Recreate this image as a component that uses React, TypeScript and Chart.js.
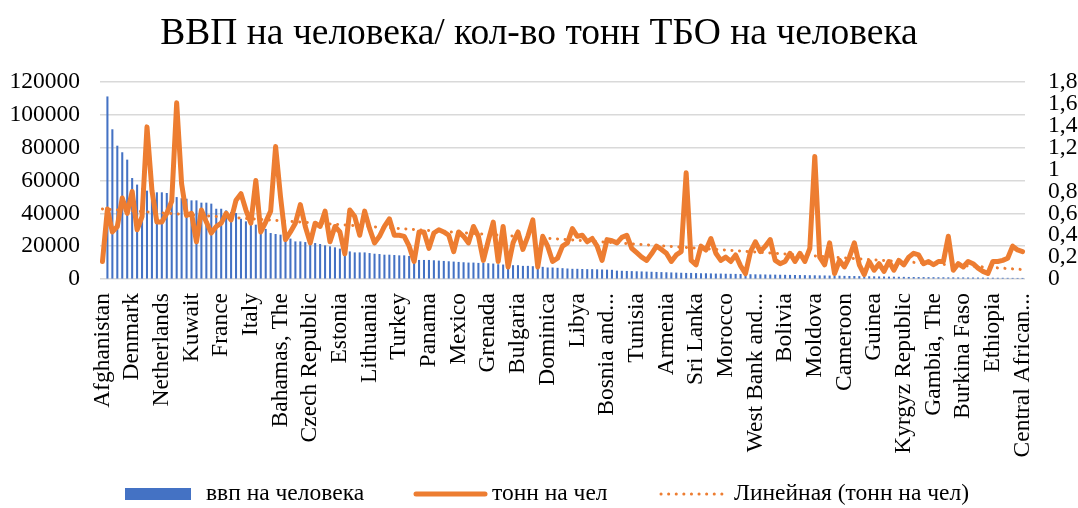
import React, { useEffect, useRef } from "react";
import { Chart, registerables } from "chart.js";

Chart.register(...registerables);

const TITLE = "ВВП на человека/ кол-во тонн ТБО на человека";
const SERIES_GDP = "ввп на человека";
const SERIES_WASTE = "тонн на чел";
const SERIES_TREND = "Линейная (тонн на чел)";

// every 6th category name is shown on the axis
const TICK_LABELS = [
  "Afghanistan", "Denmark", "Netherlands", "Kuwait", "France", "Italy",
  "Bahamas, The", "Czech Republic", "Estonia", "Lithuania", "Turkey", "Panama",
  "Mexico", "Grenada", "Bulgaria", "Dominica", "Libya", "Bosnia and...",
  "Tunisia", "Armenia", "Sri Lanka", "Morocco", "West Bank and...", "Bolivia",
  "Moldova", "Cameroon", "Guinea", "Kyrgyz Republic", "Gambia, The", "Burkina Faso",
  "Ethiopia", "Central African...",
];
const LABEL_STEP = 6;

const GDP: (number | null)[] = [
  null, 111000, 91000, 81000, 77000, 72500, 61300, 57300, 55000, 53600,
  53000, 52600, 52600, 52200, 51000, 49700, 49000, 48700, 47700, 47700,
  46300, 46300, 45700, 42600, 42600, 41600, 40600, 40000, 36500, 34900,
  33500, 32900, 32500, 30300, 27800, 27200, 26800, 24800, 24400, 22700,
  22700, 22300, 22300, 21700, 21100, 20300, 19700, 19100, 18300, 17000,
  16600, 16000, 16000, 16000, 15600, 15200, 15000, 14600, 14600, 14400,
  14200, 14200, 13800, 11800, 11400, 11400, 11400, 11200, 11000, 10800,
  10600, 10400, 10200, 10000, 9800, 9800, 9600, 9600, 9400, 9200,
  8800, 8600, 8400, 8200, 8200, 7800, 7800, 7600, 7500, 7200,
  6800, 6800, 6600, 6400, 6200, 6000, 6000, 5900, 5800, 5800,
  5700, 5600, 5500, 5400, 4900, 4800, 4700, 4600, 4500, 4400,
  4300, 4200, 4100, 4000, 3900, 3800, 3700, 3600, 3500, 3500,
  3400, 3300, 3300, 3200, 3100, 3100, 3000, 2950, 2900, 2850,
  2800, 2700, 2650, 2600, 2550, 2500, 2450, 2400, 2350, 2300,
  2250, 2200, 2150, 2100, 2050, 2000, 1950, 1900, 1850, 1800,
  1700, 1650, 1600, 1550, 1500, 1450, 1400, 1350, 1300, 1250,
  1200, 1150, 1100, 1050, 1000, 980, 950, 920, 900, 870,
  840, 810, 790, 770, 750, 720, 700, 680, 650, 620,
  600, 570, 540, 510, 480, 450, 420,
];

const WASTE: number[] = [
  0.16, 0.64, 0.43, 0.48, 0.74, 0.60, 0.80, 0.45, 0.57, 1.39,
  0.81, 0.52, 0.52, 0.60, 0.71, 1.61, 0.87, 0.58, 0.60, 0.34,
  0.63, 0.52, 0.42, 0.48, 0.51, 0.60, 0.54, 0.72, 0.78, 0.63,
  0.51, 0.90, 0.43, 0.52, 0.62, 1.21, 0.75, 0.36, 0.43, 0.51,
  0.68, 0.48, 0.33, 0.51, 0.48, 0.62, 0.34, 0.48, 0.43, 0.23,
  0.63, 0.57, 0.40, 0.62, 0.46, 0.33, 0.39, 0.48, 0.55, 0.40,
  0.40, 0.39, 0.30, 0.16, 0.43, 0.43, 0.28, 0.42, 0.45, 0.43,
  0.40, 0.25, 0.43, 0.39, 0.33, 0.48, 0.39, 0.17, 0.35, 0.52,
  0.16, 0.48, 0.11, 0.33, 0.43, 0.27, 0.39, 0.54, 0.11, 0.39,
  0.30, 0.16, 0.19, 0.30, 0.33, 0.46, 0.39, 0.40, 0.34, 0.37,
  0.30, 0.17, 0.36, 0.35, 0.33, 0.38, 0.40, 0.28, 0.24, 0.20,
  0.17, 0.23, 0.30, 0.27, 0.235, 0.16, 0.22, 0.25, 0.97, 0.17,
  0.13, 0.30, 0.265, 0.37, 0.235, 0.17, 0.20, 0.16, 0.22, 0.12,
  0.05, 0.25, 0.34, 0.25, 0.30, 0.36, 0.17, 0.14, 0.16, 0.235,
  0.16, 0.235, 0.16, 0.28, 1.12, 0.20, 0.13, 0.33, 0.05, 0.17,
  0.11, 0.20, 0.33, 0.13, 0.04, 0.16, 0.08, 0.14, 0.07, 0.16,
  0.08, 0.17, 0.13, 0.20, 0.235, 0.22, 0.14, 0.16, 0.13, 0.16,
  0.16, 0.39, 0.08, 0.14, 0.11, 0.16, 0.14, 0.10, 0.07, 0.05,
  0.16, 0.16, 0.17, 0.19, 0.30, 0.265, 0.25,
];

const LEFT_TICKS = { min: 0, max: 120000, step: 20000 };
const RIGHT_TICKS = { min: 0, max: 1.8, step: 0.2 };

const CATEGORIES = GDP.map((_, i) =>
  i % LABEL_STEP === 0 ? TICK_LABELS[i / LABEL_STEP] ?? "" : ""
);

// least-squares linear trend of the waste series (Excel "Linear" trendline)
function linearTrend(ys: number[]): number[] {
  const n = ys.length;
  let sx = 0, sy = 0, sxx = 0, sxy = 0;
  ys.forEach((y, i) => {
    sx += i; sy += y; sxx += i * i; sxy += i * y;
  });
  const slope = (n * sxy - sx * sy) / (n * sxx - sx * sx);
  const intercept = (sy - slope * sx) / n;
  return ys.map((_, i) => intercept + slope * i);
}

const BLUE = "#4472C4";
const ORANGE = "#ED7D31";
const GRID = "#D9D9D9";
const TEXT = "#000000";
const FONT = "'Liberation Serif', 'Times New Roman', serif";

const W = 1078;
const H = 508;

const decorPlugin = {
  id: "decor",
  afterDraw(chart: any) {
    const ctx = chart.ctx as CanvasRenderingContext2D;
    ctx.save();
    // title
    ctx.fillStyle = TEXT;
    ctx.font = `37.5px ${FONT}`;
    ctx.textAlign = "center";
    ctx.textBaseline = "middle";
    ctx.fillText(TITLE, W / 2, 34);

    // legend
    const ly = 494;
    ctx.font = `23.5px ${FONT}`;
    ctx.textAlign = "left";
    ctx.fillStyle = BLUE;
    ctx.fillRect(125, 488, 66, 12);
    ctx.fillStyle = TEXT;
    ctx.fillText(SERIES_GDP, 206, ly);

    ctx.strokeStyle = ORANGE;
    ctx.lineWidth = 5;
    ctx.lineCap = "round";
    ctx.beginPath();
    ctx.moveTo(416, ly);
    ctx.lineTo(485, ly);
    ctx.stroke();
    ctx.fillText(SERIES_WASTE, 492, ly);

    ctx.lineWidth = 3;
    ctx.setLineDash([0.1, 7.5]);
    ctx.beginPath();
    ctx.moveTo(661, ly);
    ctx.lineTo(727, ly);
    ctx.stroke();
    ctx.setLineDash([]);
    ctx.fillText(SERIES_TREND, 734, ly);
    ctx.restore();
  },
};

export default function App() {
  const canvasRef = useRef<HTMLCanvasElement | null>(null);

  useEffect(() => {
    document.body.style.margin = "0";
    const canvas = canvasRef.current;
    if (!canvas) return;
    const trend = linearTrend(WASTE);

    const chart = new Chart(canvas, {
      type: "bar",
      data: {
        labels: CATEGORIES,
        datasets: [
          {
            type: "line",
            label: SERIES_TREND,
            data: trend,
            yAxisID: "y1",
            borderColor: ORANGE,
            borderWidth: 3,
            borderDash: [0.1, 7.5],
            borderCapStyle: "round",
            pointRadius: 0,
            fill: false,
            order: 0,
          } as any,
          {
            type: "line",
            label: SERIES_WASTE,
            data: WASTE,
            yAxisID: "y1",
            borderColor: ORANGE,
            borderWidth: 5,
            borderJoinStyle: "round",
            borderCapStyle: "round",
            pointRadius: 0,
            fill: false,
            tension: 0,
            order: 1,
          } as any,
          {
            type: "bar",
            label: SERIES_GDP,
            data: GDP,
            yAxisID: "y",
            backgroundColor: BLUE,
            barThickness: 1.4,
            order: 2,
          } as any,
        ],
      },
      options: {
        responsive: false,
        animation: false,
        events: [],
        layout: { padding: { top: 82, left: 0, right: 0, bottom: 0 } },
        plugins: {
          legend: { display: false },
          title: { display: false },
          tooltip: { enabled: false },
        },
        scales: {
          x: {
            grid: { display: false, drawTicks: false },
            border: { display: false },
            ticks: {
              autoSkip: false,
              maxRotation: 90,
              minRotation: 90,
              padding: 14,
              color: TEXT,
              font: { family: FONT, size: 23.5 },
            },
            afterFit: (s: any) => {
              s.height = H - 279;
            },
          },
          y: {
            position: "left",
            min: LEFT_TICKS.min,
            max: LEFT_TICKS.max,
            grid: { color: GRID, lineWidth: 1.5, drawTicks: false },
            border: { display: false },
            ticks: {
              stepSize: LEFT_TICKS.step,
              padding: 20,
              color: TEXT,
              font: { family: FONT, size: 23.5 },
              callback: (v: any) => String(v),
            },
            afterFit: (s: any) => {
              s.width = 100;
            },
          },
          y1: {
            position: "right",
            min: RIGHT_TICKS.min,
            max: RIGHT_TICKS.max,
            grid: { display: false, drawTicks: false },
            border: { display: false },
            ticks: {
              stepSize: RIGHT_TICKS.step,
              autoSkip: false,
              padding: 23,
              color: TEXT,
              font: { family: FONT, size: 23.5 },
              callback: (v: any) =>
                Number(v).toFixed(1).replace(/\.0$/, "").replace(".", ","),
            },
            afterFit: (s: any) => {
              s.width = W - 1025;
            },
          },
        },
      } as any,
      plugins: [decorPlugin],
    });
    return () => chart.destroy();
  }, []);

  return (
    <div style={{ width: W, height: H, background: "#fff" }}>
      <canvas ref={canvasRef} width={W} height={H} style={{ display: "block" }} />
    </div>
  );
}
